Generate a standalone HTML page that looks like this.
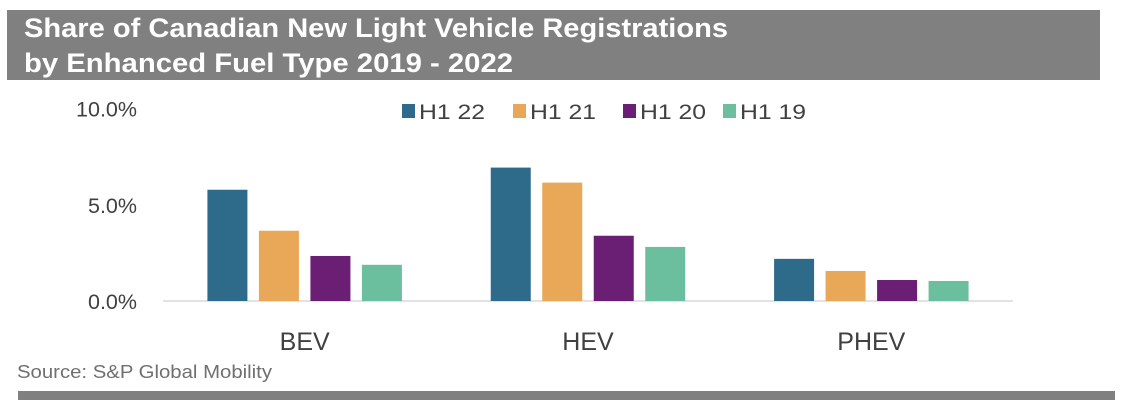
<!DOCTYPE html>
<html><head><meta charset="utf-8"><style>
html,body{margin:0;padding:0;background:#fff;width:1126px;height:412px;overflow:hidden;font-family:"Liberation Sans",sans-serif}
</style></head><body>
<svg id="chart" width="1126" height="412" xmlns="http://www.w3.org/2000/svg">
<rect x="7" y="10" width="1093" height="70" fill="#808080"/>
<text x="24" y="37" fill="#fff" font-weight="bold" font-size="26.5" textLength="704" lengthAdjust="spacingAndGlyphs">Share of Canadian New Light Vehicle Registrations</text>
<text x="24" y="72" fill="#fff" font-weight="bold" font-size="26.5" textLength="489" lengthAdjust="spacingAndGlyphs">by Enhanced Fuel Type 2019 - 2022</text>
<g id="yticks"></g>
<line x1="163" y1="301" x2="1013" y2="301" stroke="#d9d9d9" stroke-width="1.5"/>
<g id="bars"></g>
<g id="cats"></g>
<g id="legend"></g>
<text x="17" y="378" fill="#707070" font-size="18" textLength="255" lengthAdjust="spacingAndGlyphs">Source: S&amp;P Global Mobility</text>
<rect x="18" y="391" width="1097" height="9" fill="#808080"/>
</svg>
<script>
const categories = ["BEV","HEV","PHEV"];
const seriesNames = ["H1 22","H1 21","H1 20","H1 19"];
const h122 = [5.78, 6.93, 2.19];
const h121 = [3.65, 6.15, 1.56];
const h120 = [2.34, 3.39, 1.09];
const h119 = [1.88, 2.81, 1.04];
const yTicks = [0, 5, 10];
const yTickLabels = ["0.0%","5.0%","10.0%"];
const colors = ["#2e6b8a","#e9a857","#6a1f74","#6bbf9f"];
const series = [h122,h121,h120,h119];
const NS="http://www.w3.org/2000/svg";
const x0=163,x1=1013,y0=301,pxPerUnit=19.25;
const y=v=>y0-v*pxPerUnit;
const groupW=(x1-x0)/categories.length;
const bw=40,gap=11.5;
function mk(tag,attrs,parent){const e=document.createElementNS(NS,tag);for(const k in attrs)e.setAttribute(k,attrs[k]);parent.appendChild(e);return e;}
const yt=document.getElementById('yticks');
yTicks.forEach((t,i)=>{const e=mk('text',{x:137,y:y(t)+8,'text-anchor':'end','font-size':21.5,fill:'#404040'},yt);e.textContent=yTickLabels[i];

});
const bars=document.getElementById('bars');
const total=4*bw+3*gap;
categories.forEach((c,ci)=>{
  const cx=x0+groupW*(ci+0.5);
  series.forEach((s,si)=>{
    const bx=cx-total/2+si*(bw+gap);
    const r=mk('rect',{x:bx,y:y(s[ci]),width:bw,height:s[ci]*pxPerUnit,fill:colors[si]},bars);
    
    
  });
  const t=mk('text',{x:cx,y:350,'text-anchor':'middle','font-size':25,fill:'#404040'},document.getElementById('cats'));
  t.textContent=c;
  
  
});
const lg=document.getElementById('legend');
const lx=[402,513,623,723];
seriesNames.forEach((n,i)=>{
  const g=mk('g',{},lg);
  
  
  mk('rect',{x:lx[i],y:104,width:13,height:14,fill:colors[i]},g);
  const t=mk('text',{x:lx[i]+17,y:119,'font-size':21,fill:'#404040',textLength:66,lengthAdjust:'spacingAndGlyphs'},g);t.textContent=n;
});
</script>
</body></html>
